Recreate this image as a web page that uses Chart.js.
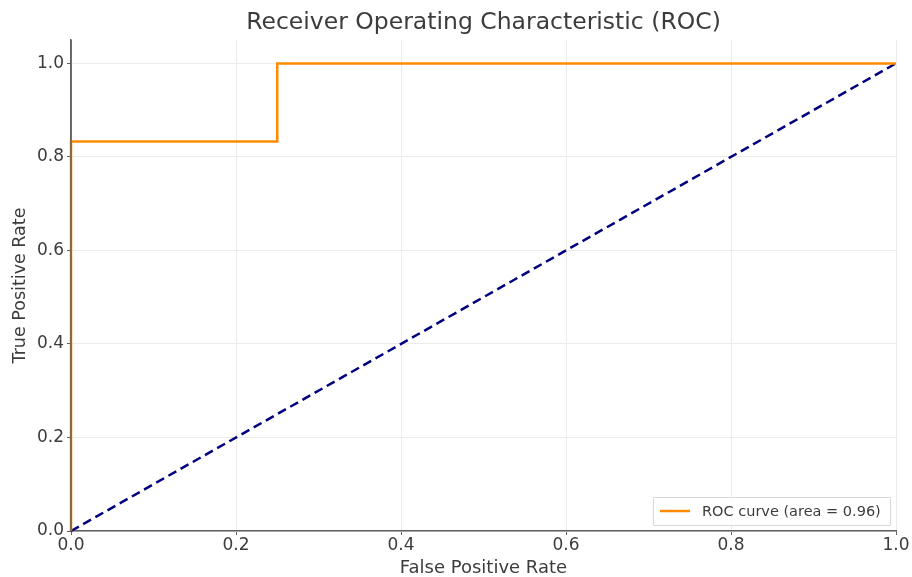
<!DOCTYPE html>
<html>
<head>
<meta charset="utf-8">
<script src="https://cdn.jsdelivr.net/npm/chart.js@4"></script>
<style>
  html, body { margin: 0; padding: 0; background: #fff; }
  #wrap { width: 912px; height: 577px; }
</style>
</head>
<body>
<div id="wrap"><canvas id="roc-chart"></canvas></div>
<script>
    // ROC curve points
    const fpr = [0, 0, 0, 0.25, 0.25, 1];
    const tpr = [0, 0.167, 0.833, 0.833, 1, 1];
    // chance line
    const chanceX = [0, 1];
    const chanceY = [0, 1];
    const xTicks = [0, 0.2, 0.4, 0.6, 0.8, 1.0];
    const yTicks = [0, 0.2, 0.4, 0.6, 0.8, 1.0];
    const rocLabel = 'ROC curve (area = 0.96)';

    const font = 'DejaVu Sans';
    const textColor = '#3c3c3c';

    // matplotlib style legend in the lower right corner of the plot
    const cornerLegend = {
      id: 'cornerLegend',
      afterDatasetsDraw(chart) {
        const ctx = chart.ctx;
        const area = chart.chartArea;
        // redraw left spine over the curve
        ctx.save();
        ctx.strokeStyle = '#5f5f5f';
        ctx.lineWidth = 1.5;
        ctx.beginPath();
        ctx.moveTo(area.left, area.top);
        ctx.lineTo(area.left, area.bottom);
        ctx.stroke();

        const w = 237, h = 28;
        const x = area.right - 6 - w;
        const y = area.bottom - 6 - h;
        ctx.fillStyle = 'rgba(255,255,255,0.85)';
        ctx.strokeStyle = '#d8d8d8';
        ctx.lineWidth = 1;
        ctx.beginPath();
        ctx.rect(x + 0.5, y + 0.5, w, h);
        ctx.fill();
        ctx.stroke();

        const ds = chart.data.datasets[0];
        ctx.strokeStyle = ds.borderColor;
        ctx.lineWidth = 2.5;
        ctx.beginPath();
        ctx.moveTo(x + 7, y + h / 2);
        ctx.lineTo(x + 37, y + h / 2);
        ctx.stroke();

        ctx.fillStyle = textColor;
        ctx.font = '14.5px "' + font + '"';
        ctx.textBaseline = 'middle';
        ctx.fillText(ds.label, x + 49, y + h / 2 + 1);
        ctx.restore();
      }
    };

    function createChart() {
      const ctx = document.getElementById('roc-chart').getContext('2d');
      const chart = new Chart(ctx, {
        type: 'scatter',
        data: {
          datasets: [
            {
              label: rocLabel,
              data: fpr.map((v, i) => ({ x: v, y: tpr[i] })),
              showLine: true,
              borderColor: '#ff8c00',
              borderWidth: 2.5,
              pointRadius: 0,
              fill: false,
              clip: false
            },
            {
              label: 'chance',
              data: chanceX.map((v, i) => ({ x: v, y: chanceY[i] })),
              showLine: true,
              borderColor: '#000080',
              borderWidth: 2.5,
              borderDash: [9, 5],
              pointRadius: 0,
              fill: false,
              clip: false
            }
          ]
        },
        options: {
          responsive: true,
          maintainAspectRatio: false,
          animation: false,
          layout: { padding: { top: 0, left: 0, right: 16, bottom: 0 } },
          plugins: {
            legend: { display: false },
            tooltip: { enabled: false },
            title: {
              display: true,
              fullSize: false,
              text: 'Receiver Operating Characteristic (ROC)',
              color: textColor,
              font: { family: font, size: 23.5, weight: 'normal' },
              padding: { top: 9, bottom: 2.8 }
            }
          },
          scales: {
            x: {
              type: 'linear',
              min: 0,
              max: 1,
              afterBuildTicks: scale => { scale.ticks = xTicks.map(v => ({ value: v })); },
              afterFit: scale => { scale.height = 46; },
              ticks: {
                color: textColor,
                font: { family: font, size: 17 },
                padding: 0,
                maxRotation: 0,
                callback: v => v.toFixed(1)
              },
              grid: { color: '#ebebeb', tickColor: '#5f5f5f', tickLength: 4 },
              border: { color: '#5f5f5f', width: 1.5 },
              title: {
                display: true,
                text: 'False Positive Rate',
                color: textColor,
                font: { family: font, size: 18, lineHeight: 1 },
                padding: { top: 0, bottom: 0 }
              }
            },
            y: {
              type: 'linear',
              min: 0,
              max: 1.05,
              afterBuildTicks: scale => { scale.ticks = yTicks.map(v => ({ value: v })); },
              afterFit: scale => { scale.width = 71; },
              ticks: {
                color: textColor,
                font: { family: font, size: 17 },
                padding: 3,
                callback: v => v.toFixed(1)
              },
              grid: { color: '#ebebeb', tickColor: '#5f5f5f', tickLength: 4 },
              border: { color: '#5f5f5f', width: 1.5 },
              title: {
                display: true,
                text: 'True Positive Rate',
                color: textColor,
                font: { family: font, size: 17.5 },
                padding: { top: 10, bottom: 0 }
              }
            }
          }
        },
        plugins: [cornerLegend]
      });
      return chart;
    }

    createChart();
</script>
</body>
</html>
